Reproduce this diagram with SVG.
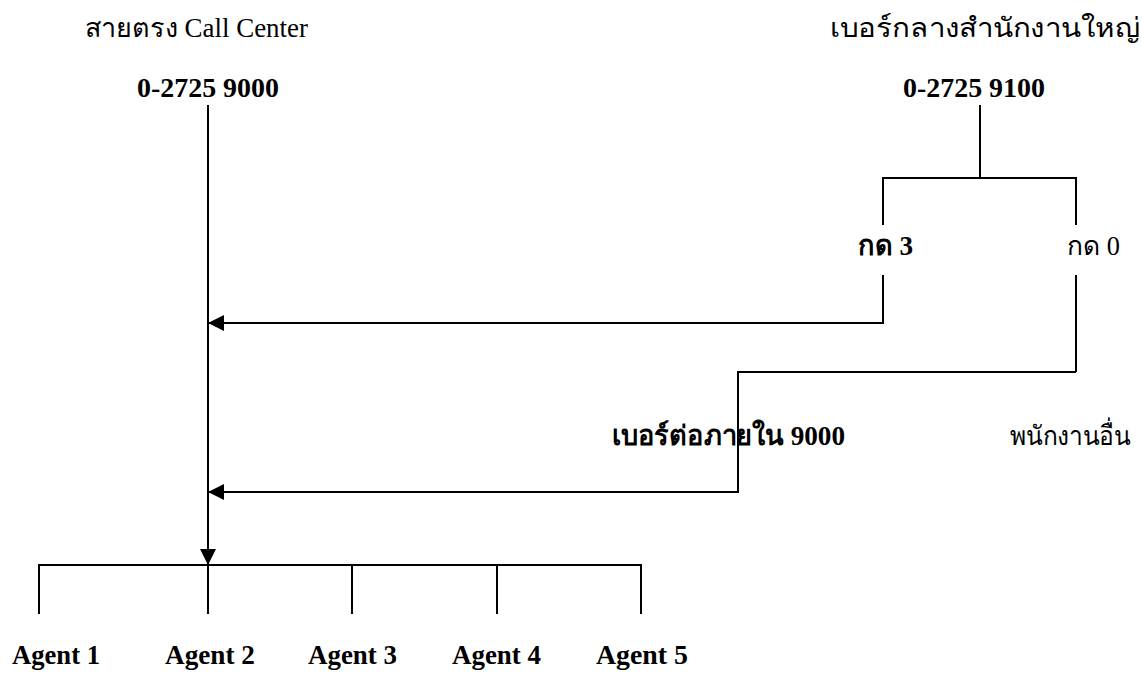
<svg xmlns="http://www.w3.org/2000/svg" width="1142" height="673" viewBox="0 0 1142 673">
<defs>
<style>
.t{font-family:"Liberation Serif","DejaVu Serif",serif;font-size:27px;fill:#000}
.b{font-weight:bold;font-size:27.5px}
.ln{stroke:#000;stroke-width:2;fill:none}
</style>
<marker id="ah" viewBox="0 0 16 16" refX="16" refY="8" markerWidth="16" markerHeight="16" markerUnits="userSpaceOnUse" orient="auto">
<path d="M0,0 L16,8 L0,16 Z" fill="#000"/>
</marker>
</defs>
<rect width="1142" height="673" fill="#fff"/>
<g id="connectors">
<line class="ln" x1="208" y1="105" x2="208" y2="565" marker-end="url(#ah)"/>
<line class="ln" x1="980" y1="105" x2="980" y2="178"/>
<polyline class="ln" points="883,225 883,178 1076,178 1076,225"/>
<polyline class="ln" points="883,275 883,323 208,323" marker-end="url(#ah)"/>
<line class="ln" x1="1076" y1="275" x2="1076" y2="372"/>
<polyline class="ln" points="1076,372 738,372 738,492 208,492" marker-end="url(#ah)"/>
<polyline class="ln" points="39,614 39,565 641,565 641,614"/>
<line class="ln" x1="208" y1="565" x2="208" y2="614"/>
<line class="ln" x1="352" y1="565" x2="352" y2="614"/>
<line class="ln" x1="497" y1="565" x2="497" y2="614"/>
</g>
<g id="callcenter">
<text class="t" x="85" y="37" textLength="223" lengthAdjust="spacingAndGlyphs">สายตรง Call Center</text>
<text class="t b" x="137" y="97" textLength="142" lengthAdjust="spacingAndGlyphs">0-2725 9000</text>
</g>
<g id="headoffice">
<text class="t" x="830" y="37" textLength="310" lengthAdjust="spacingAndGlyphs">เบอร์กลางสำนักงานใหญ่</text>
<text class="t b" x="903" y="97" textLength="142" lengthAdjust="spacingAndGlyphs">0-2725 9100</text>
</g>
<g id="press3"><text class="t b" x="858" y="255" textLength="55" lengthAdjust="spacingAndGlyphs">กด 3</text></g>
<g id="press0"><text class="t" x="1067" y="255" textLength="53" lengthAdjust="spacingAndGlyphs">กด 0</text></g>
<g id="ext9000"><text class="t b" x="612" y="445" textLength="233" lengthAdjust="spacingAndGlyphs">เบอร์ต่อภายใน 9000</text></g>
<g id="others"><text class="t" x="1010" y="445" textLength="120" lengthAdjust="spacingAndGlyphs">พนักงานอื่น</text></g>
<g id="agent1"><text class="t b" x="12" y="664" textLength="88" lengthAdjust="spacingAndGlyphs">Agent 1</text></g>
<g id="agent2"><text class="t b" x="165" y="664" textLength="90" lengthAdjust="spacingAndGlyphs">Agent 2</text></g>
<g id="agent3"><text class="t b" x="308" y="664" textLength="89" lengthAdjust="spacingAndGlyphs">Agent 3</text></g>
<g id="agent4"><text class="t b" x="452" y="664" textLength="89" lengthAdjust="spacingAndGlyphs">Agent 4</text></g>
<g id="agent5"><text class="t b" x="596" y="664" textLength="92" lengthAdjust="spacingAndGlyphs">Agent 5</text></g>
</svg>
